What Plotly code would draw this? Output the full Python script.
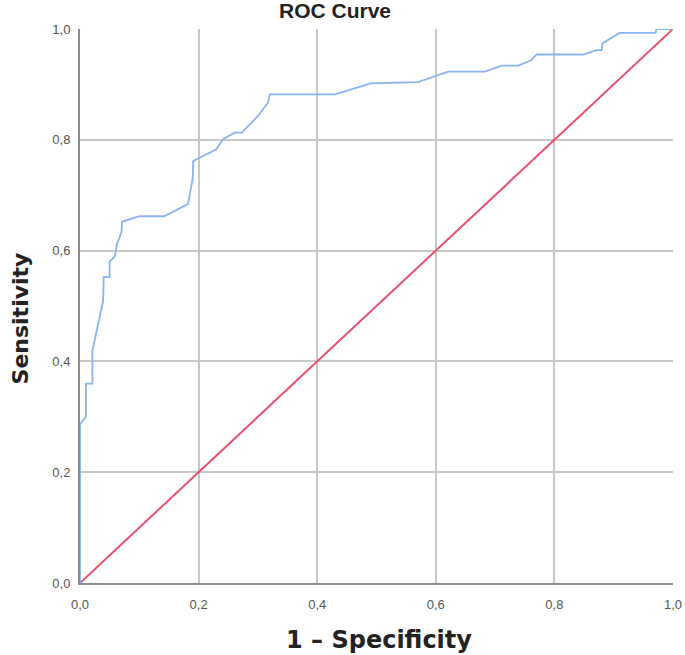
import plotly.graph_objects as go

# ROC points (1 - specificity, sensitivity)
fpr = [0.0, 0.0, 0.01, 0.01, 0.021, 0.021, 0.039, 0.04, 0.05, 0.05, 0.059, 0.062,
       0.07, 0.071, 0.10, 0.142, 0.182, 0.19, 0.191, 0.23, 0.241, 0.261, 0.273,
       0.30, 0.317, 0.32, 0.43, 0.49, 0.57, 0.621, 0.683, 0.711, 0.739, 0.76,
       0.77, 0.849, 0.871, 0.88, 0.881, 0.91, 0.971, 0.972, 1.0]
tpr = [0.0, 0.286, 0.30, 0.36, 0.36, 0.42, 0.509, 0.552, 0.552, 0.58, 0.59, 0.611,
       0.633, 0.652, 0.662, 0.662, 0.684, 0.73, 0.762, 0.783, 0.801, 0.813, 0.813,
       0.843, 0.867, 0.882, 0.882, 0.902, 0.904, 0.923, 0.923, 0.934, 0.934, 0.943,
       0.954, 0.954, 0.962, 0.962, 0.974, 0.993, 0.993, 1.0, 1.0]
ref_x = [0.0, 1.0]
ref_y = [0.0, 1.0]
tick_vals = [0.0, 0.2, 0.4, 0.6, 0.8, 1.0]

fig = go.Figure()
fig.add_trace(go.Scatter(x=ref_x, y=ref_y, mode='lines', cliponaxis=False,
                         line=dict(color='#e8506e', width=2), showlegend=False))
fig.add_trace(go.Scatter(x=fpr, y=tpr, mode='lines', cliponaxis=False,
                         line=dict(color='#8ab4f0', width=1.8), showlegend=False))

axis_common = dict(
    range=[0, 1],
    tickvals=tick_vals,
    tickformat='.1f',
    showgrid=True,
    gridcolor='#c8c8c8',
    gridwidth=1.5,
    zeroline=False,
    showline=True,
    linecolor='#8c8c8c',
    linewidth=2,
    layer='below traces',
    ticks='',
    automargin=False,
    tickfont=dict(family='Liberation Sans', size=13, color='#555555'),
)

# axis titles placed as annotations so they sit where the reference has them
title_font = dict(family='DejaVu Sans', color='#222222', weight='bold')
fig.add_annotation(text='1 – Specificity', xref='paper', yref='paper',
                   x=0.504, y=-0.103, xanchor='center', yanchor='middle',
                   showarrow=False, font=dict(**title_font, size=24))
fig.add_annotation(text='Sensitivity', xref='paper', yref='paper',
                   x=-0.1, y=0.477, xanchor='center', yanchor='middle',
                   textangle=-90, showarrow=False, font=dict(**title_font, size=22))

fig.update_layout(
    width=685,
    height=655,
    separators=',.',
    paper_bgcolor='white',
    plot_bgcolor='white',
    margin=dict(l=80, r=12, t=29, b=72, autoexpand=False),
    title=dict(text='ROC Curve', xref='paper', x=0.43, xanchor='center',
               yref='container', y=0.995, yanchor='top', pad=dict(t=0),
               font=dict(family='Liberation Sans', size=21, color='#222222',
                         weight='bold')),
    xaxis=dict(**axis_common, ticklabelstandoff=8),
    yaxis=dict(**axis_common, ticklabelstandoff=5),
)

# drop the default page margin so the figure fills the window exactly
fig.write_html("out.html",
               config={'displayModeBar': False},
               post_script="document.body.style.margin='0';"
                           "document.body.style.overflow='hidden';")
